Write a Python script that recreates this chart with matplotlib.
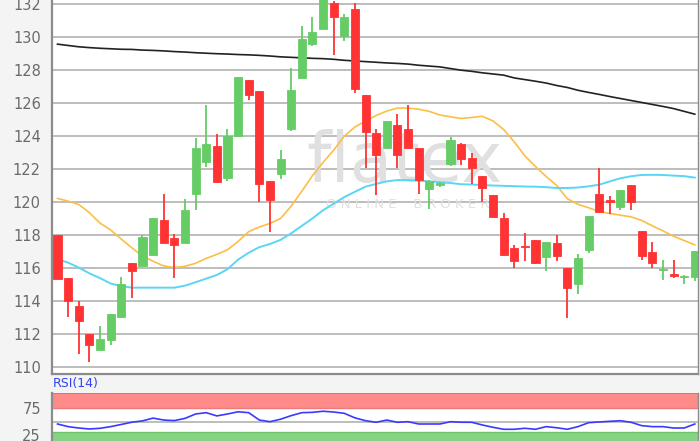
import matplotlib
matplotlib.use("Agg")
import matplotlib.pyplot as plt
import numpy as np

# ---- data ----
opens  = [118.0,115.4,113.7,112.0,111.0,111.6,113.0,116.3,116.1,116.8,
          118.9,117.8,117.5,120.5,122.45,123.4,121.45,124.0,127.4,126.75,
          121.3,121.7,124.4,127.5,129.6,130.5,132.1,130.1,131.7,126.5,
          124.2,123.3,124.7,124.4,123.3,120.8,121.05,122.3,123.55,122.7,
          121.6,120.4,119.0,117.2,117.35,117.7,116.65,117.5,116.0,115.05,
          117.1,120.5,120.1,119.7,121.05,118.25,116.95,115.85,115.6,115.45,
          115.45]
highs  = [118.0,115.4,114.0,112.0,112.5,113.2,115.45,116.3,118.0,119.0,
          120.5,118.05,120.2,123.9,125.9,124.1,124.4,127.6,127.4,126.75,
          121.3,123.15,128.15,130.7,131.2,132.6,132.2,131.4,132.1,126.5,
          124.4,124.9,125.35,125.9,123.3,121.35,121.2,123.95,123.6,122.95,
          121.6,120.4,119.35,117.4,118.1,117.7,117.6,118.0,116.0,116.85,
          119.15,122.05,120.35,120.75,121.05,118.25,117.6,116.5,116.5,115.55,
          117.05]
lows   = [115.3,113.0,110.75,110.3,111.0,111.3,113.0,114.2,116.1,116.8,
          117.5,115.4,117.5,119.5,122.15,121.2,121.3,124.0,126.2,120.0,
          118.2,121.4,124.3,127.5,129.45,130.5,128.9,129.8,126.6,122.05,
          120.4,123.3,122.05,123.25,120.5,119.6,120.9,122.2,122.25,121.1,
          120.0,119.1,116.7,116.0,116.4,116.25,115.8,116.4,112.95,114.4,
          116.9,119.4,119.25,119.5,119.5,116.5,116.0,115.25,115.4,115.0,
          115.2]
closes = [115.3,114.0,112.75,111.3,111.7,113.2,115.0,115.8,117.9,119.0,
          117.5,117.4,119.5,123.3,123.5,121.2,124.0,127.6,126.5,121.1,
          120.1,122.6,126.8,129.9,130.3,132.4,131.2,131.2,126.85,124.25,
          122.85,124.9,122.85,123.25,121.35,121.3,121.15,123.75,122.6,122.05,
          120.85,119.1,116.8,116.4,117.25,116.3,117.55,116.75,114.75,116.6,
          119.15,119.4,120.0,120.7,120.0,116.75,116.3,115.95,115.5,115.5,
          117.05]

ma_black = [129.58,129.5,129.42,129.37,129.33,129.3,129.27,129.26,129.22,129.2,
            129.17,129.13,129.1,129.06,129.03,129.0,128.98,128.95,128.93,128.9,
            128.86,128.81,128.78,128.75,128.72,128.7,128.66,128.6,128.56,128.52,
            128.48,128.44,128.41,128.37,128.3,128.25,128.2,128.1,128.0,127.93,
            127.84,127.77,127.7,127.53,127.43,127.33,127.22,127.07,126.95,126.78,
            126.65,126.53,126.4,126.28,126.16,126.04,125.92,125.8,125.67,125.5,
            125.33]
ma_orange = [120.22,120.05,119.85,119.35,118.72,118.3,117.75,117.22,116.72,116.4,
             116.12,116.02,116.1,116.28,116.58,116.82,117.1,117.6,118.2,118.48,
             118.7,119.0,119.75,120.65,121.6,122.4,123.15,124.0,124.55,124.92,
             125.25,125.52,125.7,125.7,125.63,125.5,125.28,125.17,125.07,125.13,
             125.2,124.92,124.4,123.65,122.8,122.15,121.55,121.0,120.2,119.86,
             119.65,119.42,119.3,119.2,119.1,118.88,118.55,118.25,117.92,117.66,
             117.4]
ma_cyan = [116.53,116.32,116.02,115.67,115.38,115.05,114.9,114.8,114.8,114.8,
           114.8,114.8,114.92,115.13,115.35,115.57,115.92,116.5,116.92,117.26,
           117.45,117.7,118.1,118.55,119.0,119.5,119.9,120.3,120.62,120.93,
           121.1,121.25,121.33,121.33,121.3,121.25,121.2,121.15,121.08,121.06,
           121.03,121.0,120.98,120.96,120.94,120.93,120.9,120.85,120.85,120.88,
           120.95,121.05,121.25,121.44,121.56,121.64,121.65,121.64,121.6,121.57,
           121.48]
rsi = [45.8,41,38.5,36.7,38,41,45,49,51.5,56.5,
       53,52,56,64,66.4,60.5,64,68,66.4,53,
       50,54.5,61,66.4,67,69,67.6,65.2,57,51.8,
       48.9,53,48.9,50,45.8,45.8,45.8,50,49,48.9,
       44,39.8,36.2,36.2,38,36.2,41,39,36.2,41,
       48.2,49.5,50.7,51.8,48.9,42.8,41,41,38.5,38.5,
       45.8]

price_ticks = list(range(110, 133, 2))
rsi_ticks = [25, 75]

# ---- styling ----
GREEN = "#66cc66"
RED = "#ff3333"
GRID = "#bdbdbd"
TXT = "#6b6b6b"
SPINE = "#8c8c8c"

W, H = 700, 441
fig = plt.figure(figsize=(W/100, H/100), dpi=100)
fig.patch.set_facecolor("#f4f4f4")

def fx(px): return px / W
def fy(py): return 1 - py / H

ax = fig.add_axes([fx(52), fy(374), fx(698) - fx(52), fy(0) - fy(374)])
ax.set_facecolor("white")
n = len(opens)
x = np.arange(n)
ax.set_xlim(-0.52, 60.3)
ax.set_ylim(109.56, 132.26)

for t in price_ticks:
    ax.axhline(t, color=GRID, lw=1.4, zorder=1)

# watermark
ax.text(0.545, 0.565, "flatex", transform=ax.transAxes, ha="center", va="center",
        fontsize=50, color="#e0e0e0", zorder=2, family="DejaVu Sans")
ax.text(0.55, 0.452, "O N L I N E    B R O K E R", transform=ax.transAxes,
        ha="center", va="center", fontsize=9.5, color="#e0e0e0", zorder=2)

ax.plot(x, ma_black, color="#222222", lw=1.2, zorder=3)
ax.plot(x, ma_orange, color="#fbbf45", lw=1.2, zorder=3)
ax.plot(x, ma_cyan, color="#5ad6f5", lw=1.4, zorder=3)

bw = 0.76
for i in range(n):
    o, h, l, c = opens[i], highs[i], lows[i], closes[i]
    col = GREEN if c >= o else RED
    ax.vlines(x[i], l, h, color=col, lw=1.3, zorder=4)
    lo, hi = min(o, c), max(o, c)
    ax.add_patch(plt.Rectangle((x[i] - bw/2, lo), bw, max(hi - lo, 0.08),
                               facecolor=col, edgecolor=col, lw=0.6, zorder=5))

ax.set_yticks(price_ticks)
ax.set_yticklabels([str(t) for t in price_ticks])
ax.set_xticks([])
ax.tick_params(axis="y", length=0, pad=8, labelsize=10.5, labelcolor=TXT)
ax.spines["top"].set_visible(False)
ax.spines["left"].set_color(SPINE); ax.spines["left"].set_linewidth(1.6)
ax.spines["bottom"].set_color(SPINE); ax.spines["bottom"].set_linewidth(1.6)
ax.spines["right"].set_color(SPINE); ax.spines["right"].set_linewidth(1.0)

# RSI panel
rax = fig.add_axes([fx(52), 0, fx(698) - fx(52), fy(392.7)])
rax.set_facecolor("white")
rax.set_xlim(-0.52, 60.3)
rax.set_ylim(14.9, 102.7)
rax.axhspan(75, 102.7, color="#ff8a8a", zorder=1, lw=0)
rax.axhline(101.8, color="#e06a6a", lw=1.2, zorder=2)
rax.axhline(75, color="#f07a7a", lw=1.0, zorder=2)
rax.axhspan(0, 31.8, color="#84d484", zorder=1, lw=0)
rax.axhline(31.5, color="#6cc46c", lw=1.0, zorder=2)
rax.axhline(50, color=GRID, lw=1.4, zorder=2)
rax.plot(x, rsi, color="#3a3aff", lw=1.2, zorder=3)
rax.set_yticks(rsi_ticks)
rax.set_yticklabels([str(t) for t in rsi_ticks])
rax.set_xticks([])
rax.tick_params(axis="y", length=0, pad=8, labelsize=10.5, labelcolor=TXT)
rax.spines["top"].set_visible(False)
rax.spines["bottom"].set_visible(False)
rax.spines["left"].set_color(SPINE); rax.spines["left"].set_linewidth(1.6)
rax.spines["right"].set_color(SPINE); rax.spines["right"].set_linewidth(1.0)

fig.text(fx(53), fy(384), "RSI(14)", color="#3344ee", fontsize=9, ha="left", va="center")

fig.savefig("out.png", dpi=100, facecolor=fig.get_facecolor())
